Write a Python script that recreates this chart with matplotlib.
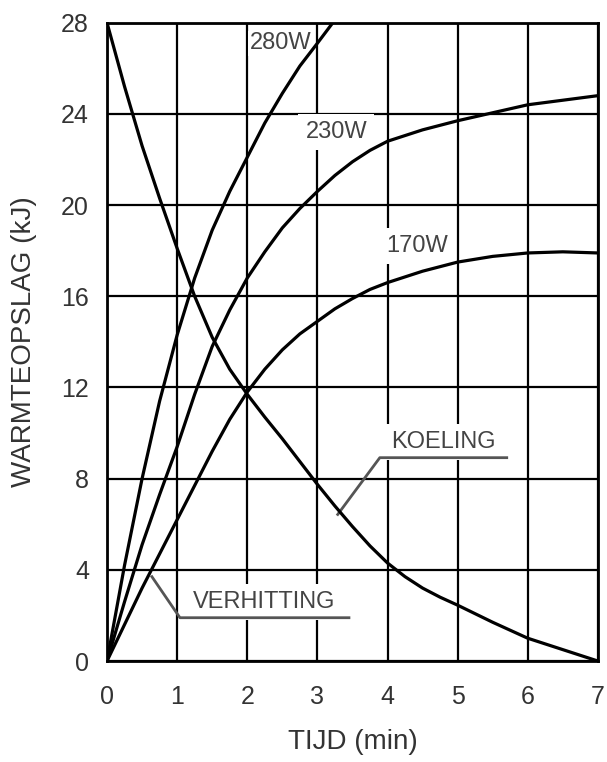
import matplotlib
matplotlib.use("Agg")
import matplotlib.pyplot as plt

plt.rcParams['font.family'] = ['Liberation Sans', 'DejaVu Sans']

# Heat storage (kJ) versus time (min)
x_280 = [0, 0.25, 0.5, 0.75, 1.0, 1.25, 1.5, 1.75, 2.0, 2.25, 2.5, 2.75, 3.0, 3.22]
y_280 = [0, 4.2, 8.0, 11.4, 14.3, 16.8, 18.9, 20.6, 22.1, 23.6, 24.9, 26.1, 27.1, 28.0]

x_230 = [0, 0.25, 0.5, 0.75, 1.0, 1.25, 1.5, 1.75, 2.0, 2.25, 2.5, 2.75, 3.0, 3.25,
         3.5, 3.75, 4.0, 4.5, 5.0, 5.5, 6.0, 6.5, 7.0]
y_230 = [0, 2.6, 5.1, 7.3, 9.4, 11.7, 13.8, 15.4, 16.8, 17.95, 19.0, 19.85, 20.6, 21.3,
         21.9, 22.4, 22.8, 23.3, 23.7, 24.05, 24.4, 24.6, 24.8]

x_170 = [0, 0.5, 1.0, 1.5, 1.75, 2.0, 2.25, 2.5, 2.75, 3.0, 3.25, 3.5, 3.75, 4.0,
         4.5, 5.0, 5.5, 6.0, 6.5, 7.0]
y_170 = [0, 3.2, 6.2, 9.2, 10.6, 11.8, 12.8, 13.65, 14.35, 14.9, 15.45, 15.9, 16.3, 16.6,
         17.1, 17.5, 17.75, 17.9, 17.95, 17.9]

x_cool = [0, 0.25, 0.5, 0.75, 1.0, 1.25, 1.5, 1.75, 2.0, 2.25, 2.5, 2.75, 3.0, 3.25,
          3.5, 3.75, 4.0, 4.25, 4.5, 4.75, 5.0, 5.5, 6.0, 6.5, 7.0]
y_cool = [28, 25.2, 22.6, 20.3, 18.1, 16.0, 14.2, 12.8, 11.7, 10.7, 9.75, 8.75, 7.75, 6.8,
          5.9, 5.05, 4.3, 3.7, 3.2, 2.8, 2.45, 1.7, 1.0, 0.5, 0.0]

x_ticks = [0, 1, 2, 3, 4, 5, 6, 7]
y_ticks = [0, 4, 8, 12, 16, 20, 24, 28]

fig = plt.figure(figsize=(6.07, 7.62), dpi=100)
ax = fig.add_axes([0.1763, 0.1325, 0.8087, 0.8377])
ax.set_xlim(0, 7)
ax.set_ylim(0, 28)
ax.set_xticks(x_ticks)
ax.set_yticks(y_ticks)
ax.tick_params(length=0, labelsize=18, labelcolor='#333333')
ax.tick_params(axis='x', pad=17)
ax.tick_params(axis='y', pad=13)
ax.grid(True, color='black', linewidth=1.6, zorder=1)
ax.set_axisbelow(True)
for s in ax.spines.values():
    s.set_linewidth(2.0)
    s.set_color('black')
    s.set_zorder(6)

for xs, ys in [(x_280, y_280), (x_230, y_230), (x_170, y_170), (x_cool, y_cool)]:
    ax.plot(xs, ys, color='black', linewidth=2.3, zorder=5,
            solid_joinstyle='round', solid_capstyle='butt')

txt = dict(fontsize=17, color='#444444', ha='center', va='center', zorder=4)
ax.text(2.47, 27.1, '280W', bbox=dict(facecolor='white', edgecolor='none', pad=1), **txt)
wide = dict(boxstyle='square,pad=0.3', facecolor='white', edgecolor='none')
ax.text(3.27, 23.2, '230W', bbox=wide, **txt)
ax.text(4.42, 18.2, '170W', bbox=wide, **txt)
ax.text(4.79, 9.6, 'KOELING', bbox=wide, **txt)
ax.text(2.24, 2.6, 'VERHITTING', bbox=wide, **txt)

# leader lines
ax.plot([0.64, 1.04, 3.45], [3.7, 1.9, 1.9], color='#555555', linewidth=2.0, zorder=4.5)
ax.plot([3.29, 3.89, 5.70], [6.43, 8.92, 8.92], color='#555555', linewidth=2.0, zorder=4.5)

ax.set_xlabel('TIJD (min)', fontsize=20, color='#333333', labelpad=15)
ax.set_ylabel('WARMTEOPSLAG (kJ)', fontsize=20, color='#333333', labelpad=17)

fig.savefig('out.png', dpi=100)
